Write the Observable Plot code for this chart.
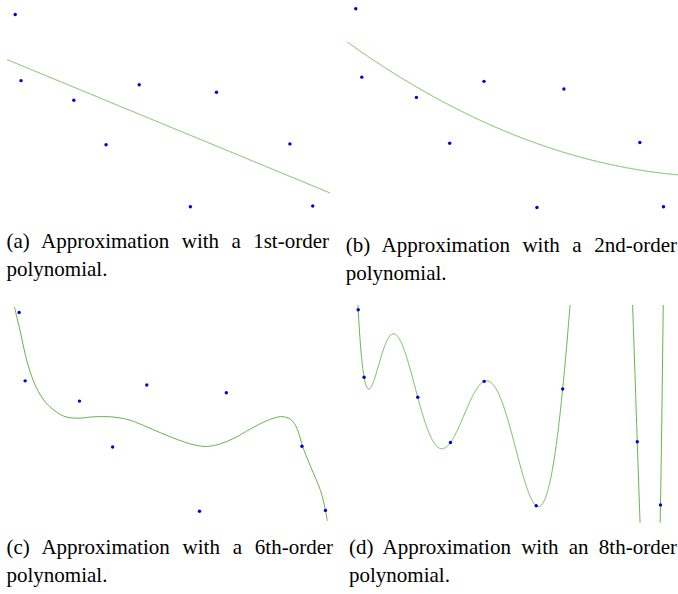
<!DOCTYPE html>
<html><head><meta charset="utf-8">
<script src="https://cdn.jsdelivr.net/npm/d3@7"></script>
<script src="https://cdn.jsdelivr.net/npm/@observablehq/plot@0.6"></script>
<style>
html,body{margin:0;padding:0;background:#fff;}
#wrap{position:relative;width:678px;height:594px;overflow:hidden;}
.panel{position:absolute;}
.panel svg{display:block;overflow:hidden;}
.cap{position:absolute;font-family:"Liberation Serif","Times New Roman",serif;font-size:21px;line-height:28px;text-align:justify;color:#000;}
</style></head><body><div id="wrap"></div>
<script>
// Sample points (same 9 points in every panel)
const xValues = [0.024, 0.042, 0.206, 0.306, 0.409, 0.568, 0.649, 0.877, 0.948];
const yValues = [1.000, 0.656, 0.554, 0.323, 0.635, 0.000, 0.596, 0.327, 0.004];
// Polynomial order used in each panel
const orders = [1, 2, 6, 8];
const captions = [
  "(a) Approximation with a 1st-order polynomial.",
  "(b) Approximation with a 2nd-order polynomial.",
  "(c) Approximation with a 6th-order polynomial.",
  "(d) Approximation with an 8th-order polynomial."
];
// 6th-order curve (panel c)
const curve6X = [0.005, 0.010, 0.028, 0.043, 0.063, 0.082, 0.104, 0.129, 0.159, 0.199, 0.249, 0.300, 0.350, 0.400, 0.450, 0.501, 0.551, 0.591, 0.631, 0.672, 0.722, 0.772, 0.812, 0.828, 0.843, 0.858, 0.868, 0.878, 0.903, 0.933, 0.948, 0.954, 0.963];
const curve6Y = [1.070, 1.027, 0.901, 0.784, 0.673, 0.602, 0.547, 0.509, 0.478, 0.468, 0.475, 0.475, 0.462, 0.431, 0.395, 0.361, 0.334, 0.326, 0.339, 0.367, 0.414, 0.456, 0.476, 0.473, 0.462, 0.431, 0.390, 0.331, 0.225, 0.104, 0.004, -0.052, -0.122];

function polyfit(xs, ys, deg) {
  const n = deg + 1;
  const t = xs.map(x => 2 * x - 1);
  const A = Array.from({length: n}, () => new Array(n).fill(0));
  const b = new Array(n).fill(0);
  for (let k = 0; k < t.length; k++) {
    const pw = [1];
    for (let i = 1; i < 2 * n; i++) pw.push(pw[i - 1] * t[k]);
    for (let i = 0; i < n; i++) {
      b[i] += pw[i] * ys[k];
      for (let j = 0; j < n; j++) A[i][j] += pw[i + j];
    }
  }
  for (let c = 0; c < n; c++) {
    let p = c;
    for (let r = c + 1; r < n; r++) if (Math.abs(A[r][c]) > Math.abs(A[p][c])) p = r;
    [A[c], A[p]] = [A[p], A[c]]; [b[c], b[p]] = [b[p], b[c]];
    for (let r = c + 1; r < n; r++) {
      const f = A[r][c] / A[c][c];
      for (let j = c; j < n; j++) A[r][j] -= f * A[c][j];
      b[r] -= f * b[c];
    }
  }
  const coef = new Array(n).fill(0);
  for (let i = n - 1; i >= 0; i--) {
    let s = b[i];
    for (let j = i + 1; j < n; j++) s -= A[i][j] * coef[j];
    coef[i] = s / A[i][i];
  }
  return x => { const tt = 2 * x - 1; let s = 0; for (let i = n - 1; i >= 0; i--) s = s * tt + coef[i]; return s; };
}

const points = xValues.map((x, i) => ({x, y: yValues[i]}));

const layout = [
  {left: 0,   top: 0,   w: 339, h: 220, xr: [7, 329],      yr: [206.3, 14],  mt: 0,    mb: 0},
  {left: 339, top: 0,   w: 339, h: 220, xr: [8.3, 341.3],  yr: [207, 8.3],   mt: 0,    mb: 0},
  {left: 0,   top: 295, w: 339, h: 230, xr: [10.7, 342.2], yr: [215.7, 17],  mt: 11.7, mb: 4.3},
  {left: 339, top: 295, w: 339, h: 230, xr: [10.85, 338],  yr: [210.3, 14.3], mt: 10,  mb: 2.3}
];
const capLayout = [
  {left: 6.5,   top: 226.9, w: 322.5},
  {left: 345.7, top: 230.9, w: 331.3},
  {left: 6.5,   top: 532.9, w: 326.5},
  {left: 349,   top: 532.9, w: 328}
];

const wrap = document.getElementById("wrap");
const N = 2000;
orders.forEach((deg, idx) => {
  const L = layout[idx];
  let curve, curveType = "linear";
  if (deg === 6) {
    curve = curve6X.map((x, i) => ({x, y: curve6Y[i]}));
    curveType = "catmull-rom";
  } else {
    const f = polyfit(xValues, yValues, deg);
    curve = d3.range(N + 1).map(i => { const x = i / N; return {x, y: f(x)}; });
  }
  const plot = Plot.plot({
    width: L.w, height: L.h,
    marginLeft: 0, marginRight: 0, marginTop: L.mt, marginBottom: L.mb,
    x: {domain: [0, 1], range: L.xr, axis: null},
    y: {domain: [0, 1], range: L.yr, axis: null},
    marks: [
      Plot.line(curve, {x: "x", y: "y", stroke: "#66b447", strokeWidth: 1, curve: curveType, clip: true}),
      Plot.dot(points, {x: "x", y: "y", r: 1.7, fill: "#0000dd", stroke: "none"})
    ]
  });
  const div = document.createElement("div");
  div.className = "panel";
  div.style.left = L.left + "px"; div.style.top = L.top + "px";
  div.appendChild(plot);
  wrap.appendChild(div);

  const C = capLayout[idx];
  const cap = document.createElement("div");
  cap.className = "cap";
  cap.style.left = C.left + "px"; cap.style.top = C.top + "px"; cap.style.width = C.w + "px";
  cap.textContent = captions[idx];
  wrap.appendChild(cap);
});
</script></body></html>
